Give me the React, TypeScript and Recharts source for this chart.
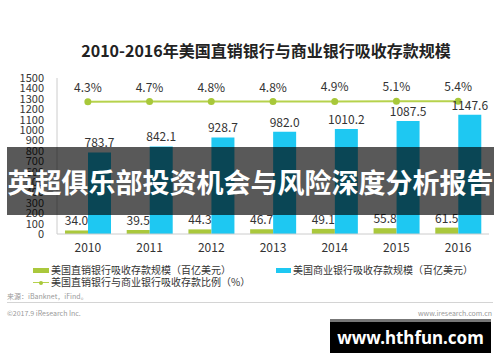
import { ComposedChart, Bar, Line, XAxis, YAxis, LabelList } from "recharts";

const years = ["2010", "2011", "2012", "2013", "2014", "2015", "2016"];
const directBank = [34.0, 39.5, 44.3, 46.7, 49.1, 55.8, 61.5];
const commercialBank = [783.7, 842.1, 928.7, 982.0, 1010.2, 1087.5, 1147.6];
const ratio = [4.3, 4.7, 4.8, 4.8, 4.9, 5.1, 5.4];
const yTicks = [0, 100, 200, 300, 400, 500, 600, 700, 800, 900, 1000, 1100, 1200, 1300, 1400, 1500];

const data = years.map((y, i) => ({
  year: y,
  direct: directBank[i],
  commercial: commercialBank[i],
  ratio: ratio[i],
}));

const GREEN = "#aac83c";
const CYAN = "#1ec8f2";
const FONT = "'Noto Sans CJK SC', 'Noto Sans', sans-serif";
const LBL = { fill: "#333", fontSize: 12, fontFamily: FONT };

export default function App() {
  return (
    <div style={{ position: "absolute", left: 0, top: 0, width: 500, height: 362, background: "#fff", fontFamily: FONT, overflow: "hidden" }}>
      <div style={{ position: "absolute", top: 40, left: 0, width: 532, textAlign: "center", fontSize: 16, fontWeight: 700, color: "#222", lineHeight: "20px" }}>
        2010-2016年美国直销银行与商业银行吸收存款规模
      </div>

      <ComposedChart width={500} height={362} data={data}
        margin={{ top: 78, right: 11, left: 0, bottom: 98 }} barGap={0}>
        <XAxis dataKey="year" tickLine={false} axisLine={{ stroke: "#ccc" }}
          tick={{ fill: "#333", fontSize: 12, fontFamily: FONT }} tickSize={6} tickMargin={3} height={30} />
        <YAxis yAxisId="l" domain={[0, 1500]} ticks={yTicks} interval={0} width={57}
          tickLine={false} axisLine={{ stroke: "#ccc" }} tickSize={6} tickMargin={7}
          tick={{ fill: "#333", fontSize: 11, fontFamily: FONT }} />
        <YAxis yAxisId="r" orientation="right" domain={[-250, 50]} hide />
        <Bar yAxisId="l" dataKey="direct" fill={GREEN} barSize={23} isAnimationActive={false}>
          <LabelList dataKey="direct" position="top" offset={5} formatter={(v: number) => v.toFixed(1)} style={LBL} />
        </Bar>
        <Bar yAxisId="l" dataKey="commercial" fill={CYAN} barSize={23} isAnimationActive={false}>
          <LabelList dataKey="commercial" position="top" offset={5} formatter={(v: number) => v.toFixed(1)} style={LBL} />
        </Bar>
        <Line yAxisId="r" dataKey="ratio" stroke="#b6d24c" strokeWidth={2}
          dot={{ r: 2.5, fill: "#a8c83a", stroke: "#a8c83a" }} isAnimationActive={false}>
          <LabelList dataKey="ratio" position="top" offset={10} formatter={(v: number) => `${v.toFixed(1)}%`} style={LBL} />
        </Line>
      </ComposedChart>

      <div style={{ position: "absolute", top: 264, left: 33, fontSize: 10, color: "#333", lineHeight: "12px" }}>
        <div style={{ display: "flex", alignItems: "center" }}>
          <span style={{ width: 16, height: 5, background: GREEN, display: "inline-block", marginRight: 2 }} />
          美国直销银行吸收存款规模（百亿美元）
        </div>
        <div style={{ display: "flex", alignItems: "center" }}>
          <span style={{ position: "relative", width: 16, height: 5, display: "inline-block", marginRight: 2 }}>
            <span style={{ position: "absolute", left: 0, top: 2, width: 16, height: 1.5, background: "#b6d24c" }} />
            <span style={{ position: "absolute", left: 6, top: 1, width: 4, height: 4, borderRadius: 2, background: "#a8c83a" }} />
          </span>
          美国直销银行与商业银行吸收存款比例（%）
        </div>
      </div>
      <div style={{ position: "absolute", top: 264, left: 276, fontSize: 10, color: "#333", lineHeight: "12px", display: "flex", alignItems: "center" }}>
        <span style={{ width: 15, height: 5, background: CYAN, display: "inline-block", marginRight: 2 }} />
        美国商业银行吸收存款规模（百亿美元）
      </div>

      <div style={{ position: "absolute", top: 291, left: 7, fontSize: 7, color: "#999" }}>来源：iBanknet，iFind。</div>
      <div style={{ position: "absolute", top: 302, left: 7, width: 486, height: 1, background: "#d4d4d4" }} />
      <div style={{ position: "absolute", top: 308, left: 7, fontSize: 7, color: "#999" }}>©2017.9 iResearch Inc.</div>
      <div style={{ position: "absolute", top: 308, right: 8, fontSize: 7, color: "#999" }}>www.iresearch.com.cn</div>

      <div style={{ position: "absolute", left: 7, top: 147, width: 487, height: 68, background: "rgba(0,0,0,0.65)", color: "#fff", fontSize: 27, fontWeight: 700, display: "flex", alignItems: "center", justifyContent: "center", letterSpacing: 0 }}>
        英超俱乐部投资机会与风险深度分析报告
      </div>

      <div style={{ position: "absolute", left: 330, top: 319, width: 161, height: 34, background: "#000", borderTop: "3px solid #777", boxSizing: "border-box", color: "#fff", fontSize: 17, fontWeight: 700, fontFamily: "'Noto Sans', sans-serif", display: "flex", alignItems: "center", justifyContent: "center" }}>
        www.hthfun.com
      </div>
    </div>
  );
}
